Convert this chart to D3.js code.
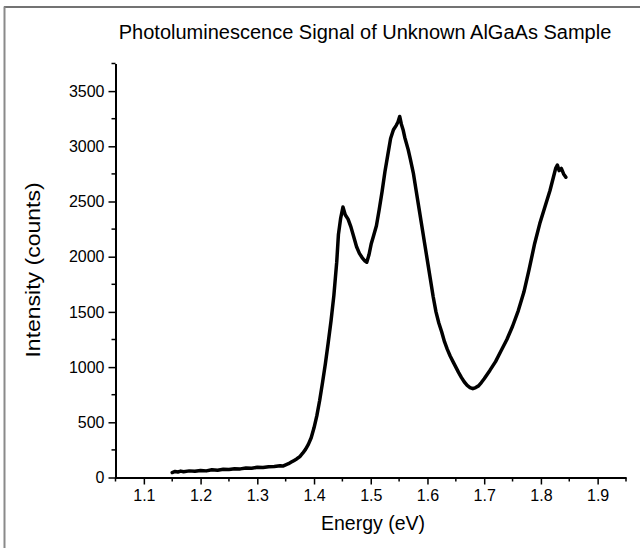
<!DOCTYPE html>
<html>
<head>
<meta charset="utf-8">
<script src="https://cdn.jsdelivr.net/npm/d3@7"></script>
<style>
  html, body { margin: 0; padding: 0; background: #fff; }
  svg { display: block; }
  text { font-family: "Liberation Sans", Arial, sans-serif; fill: #000; }
</style>
</head>
<body>
<svg id="chart" width="640" height="548"></svg>
<script>
// ---- data ----
const energy = [
  1.150, 1.155, 1.160, 1.165, 1.170, 1.180, 1.190, 1.200, 1.210, 1.220,
  1.230, 1.240, 1.250, 1.260, 1.270, 1.280, 1.290, 1.300, 1.310, 1.320,
  1.330, 1.340, 1.345, 1.350, 1.355, 1.360, 1.365, 1.370, 1.375, 1.380,
  1.385, 1.390, 1.395, 1.400, 1.405, 1.410, 1.415, 1.420, 1.425, 1.430,
  1.435, 1.440, 1.443, 1.447, 1.451, 1.455, 1.460, 1.465, 1.470, 1.475,
  1.480, 1.485, 1.490, 1.493, 1.497, 1.501, 1.505, 1.510, 1.515, 1.520,
  1.525, 1.530, 1.535, 1.540, 1.545, 1.548, 1.551, 1.554, 1.557, 1.560,
  1.566, 1.570, 1.575, 1.580, 1.585, 1.590, 1.595, 1.600, 1.605, 1.610,
  1.615, 1.620, 1.625, 1.630, 1.635, 1.640, 1.645, 1.650, 1.655, 1.660,
  1.665, 1.670, 1.675, 1.680, 1.685, 1.690, 1.695, 1.700, 1.710, 1.720,
  1.730, 1.740, 1.750, 1.760, 1.770, 1.779, 1.789, 1.798, 1.807, 1.816,
  1.822, 1.826, 1.829, 1.832, 1.836, 1.840, 1.844
];
const intensity = [
  45, 55, 50, 58, 52, 60, 56, 64, 60, 70,
  66, 74, 72, 80, 78, 86, 84, 92, 90, 98,
  100, 106, 104, 115, 125, 140, 155, 170, 190, 220,
  255, 300, 360, 450, 560, 700, 860, 1030, 1220, 1420,
  1650, 1950, 2200, 2350, 2450, 2380, 2340, 2270, 2180, 2090,
  2030, 1990, 1960, 1950, 2020, 2120, 2190, 2280, 2430, 2590,
  2770, 2920, 3070, 3150, 3190, 3220, 3270, 3200, 3150, 3080,
  2970, 2880, 2760, 2600, 2440, 2280, 2120, 1960, 1800, 1640,
  1500, 1400, 1320, 1230, 1160, 1100, 1050, 1000, 950, 905,
  865, 835, 815, 805, 815, 830, 860, 895, 970, 1050,
  1150, 1250, 1370, 1510, 1680, 1880, 2120, 2300, 2450, 2600,
  2720, 2800, 2830, 2780, 2800, 2750, 2720
];
const xTicks = [1.1, 1.2, 1.3, 1.4, 1.5, 1.6, 1.7, 1.8, 1.9];
const yTicks = [0, 500, 1000, 1500, 2000, 2500, 3000, 3500];
const xDomain = [1.05, 1.95];
const yDomain = [0, 3750];
const titleText = "Photoluminescence Signal of Unknown AlGaAs Sample";
const xTitle = "Energy (eV)";
const yTitle = "Intensity (counts)";

// ---- layout ----
const plotLeft = 115.5, plotRight = 626, plotTop = 63.5, plotBottom = 477.5;
const svg = d3.select("#chart");

// outer frame (top and left edges visible in reference)
svg.append("line").attr("x1", 4).attr("x2", 640).attr("y1", 7).attr("y2", 7)
  .attr("stroke", "#444").attr("stroke-width", 1.5);
svg.append("line").attr("x1", 4.5).attr("x2", 4.5).attr("y1", 6.5).attr("y2", 548)
  .attr("stroke", "#8a8a8a").attr("stroke-width", 2);

const x = d3.scaleLinear().domain(xDomain).range([plotLeft, plotRight]);
const y = d3.scaleLinear().domain(yDomain).range([plotBottom, plotTop]);

// minor ticks
const xMinor = d3.range(xDomain[0], xDomain[1] + 1e-9, 0.1);
const yMinor = d3.range(250, yDomain[1] + 1, 500);

const gx = svg.append("g").attr("transform", `translate(0,${plotBottom})`);
gx.selectAll("line.minor").data(xMinor).join("line")
  .attr("x1", d => x(d)).attr("x2", d => x(d)).attr("y1", 0).attr("y2", 4)
  .attr("stroke", "#000").attr("stroke-width", 1.5);
gx.call(d3.axisBottom(x).tickValues(xTicks).tickFormat(d3.format(".1f"))
  .tickSize(7).tickSizeOuter(0).tickPadding(5));

const gy = svg.append("g").attr("transform", `translate(${plotLeft},0)`);
gy.selectAll("line.minor").data(yMinor).join("line")
  .attr("x1", 0).attr("x2", -4).attr("y1", d => y(d)).attr("y2", d => y(d))
  .attr("stroke", "#000").attr("stroke-width", 1.5);
gy.call(d3.axisLeft(y).tickValues(yTicks).tickFormat(d3.format("d"))
  .tickSize(7).tickSizeOuter(0).tickPadding(4));

[gx, gy].forEach(g => {
  g.selectAll(".domain").attr("stroke", "#000").attr("stroke-width", 2);
  g.selectAll(".tick line").attr("stroke", "#000").attr("stroke-width", 1.5);
  g.selectAll(".tick text").attr("font-size", 16)
    .attr("font-family", "Liberation Sans, Arial, sans-serif").attr("fill", "#000");
});

// data line
const pts = energy.map((e, i) => [e, intensity[i]]);
svg.append("path").datum(pts)
  .attr("fill", "none").attr("stroke", "#000").attr("stroke-width", 3.5)
  .attr("stroke-linejoin", "round").attr("stroke-linecap", "round")
  .attr("d", d3.line().x(d => x(d[0])).y(d => y(d[1])));

// titles
svg.append("text").attr("x", 365).attr("y", 39).attr("text-anchor", "middle")
  .attr("font-size", 20).text(titleText);
svg.append("text").attr("x", 373).attr("y", 530).attr("text-anchor", "middle")
  .attr("font-size", 19.5).text(xTitle);
svg.append("text").attr("transform", `translate(40,270) rotate(-90) scale(1.18,1)`)
  .attr("text-anchor", "middle").attr("font-size", 19.5).text(yTitle);
</script>
</body>
</html>
